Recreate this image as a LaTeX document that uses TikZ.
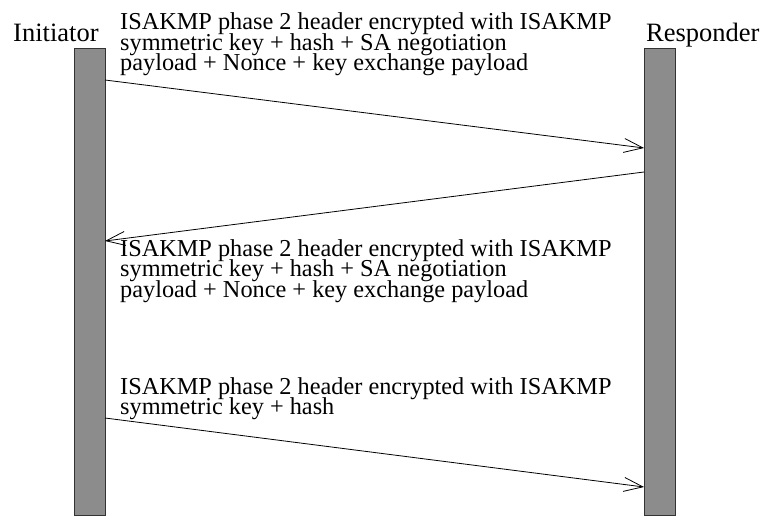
\documentclass[tikz,border=0pt]{standalone}
\usepackage{fontspec}
\setmainfont{Liberation Serif}
\usepackage{tikz}
\usetikzlibrary{arrows.meta}

\definecolor{bargray}{gray}{0.55}
\newcommand{\msgfont}{\fontsize{24.3}{20.5}\selectfont\lineskiplimit=-20pt\relax}

\begin{document}
\begin{tikzpicture}[x=1pt, y=-1pt,
    lifeline/.style={draw=black!80, fill=bargray, line width=0.9pt, minimum width=31pt, minimum height=467pt, inner sep=0pt},
    party/.style={anchor=base west, inner sep=0pt, font=\fontsize{26.5}{30}\selectfont},
    msgtext/.style={anchor=base west, inner sep=0pt, align=left, font=\msgfont},
    msg/.style={line width=0.8pt, -{Straight Barb[length=19pt, width=14pt, line width=0.8pt]}}]
        \useasboundingbox (0,0) rectangle (765,516);

        \node (Initiator) [lifeline] at (89.5,281.5) {};
        \node (Responder) [lifeline] at (659.5,281.5) {};
        \node (InitiatorName) [party] at (13,41.7) {Initiator};
        \node (ResponderName) [party] at (646,41.7) {Responder};

        % base of a multi-line node is its last line
        \node (Text1) [msgtext] at (120,71) {ISAKMP phase 2 header encrypted with ISAKMP\\symmetric key + hash + SA negotiation\\payload + Nonce + key exchange payload};
        \node (Text2) [msgtext] at (120,297) {ISAKMP phase 2 header encrypted with ISAKMP\\symmetric key + hash + SA negotiation\\payload + Nonce + key exchange payload};
        \node (Text3) [msgtext] at (120,414.5) {ISAKMP phase 2 header encrypted with ISAKMP\\symmetric key + hash};

        \coordinate (Out1) at (105,80);
        \coordinate (In1) at (644,148);
        \coordinate (Out2) at (644,172);
        \coordinate (In2) at (105,241);
        \coordinate (Out3) at (105,418);
        \coordinate (In3) at (644,487);

        \draw [msg] (Out1) -- (In1);
        \draw [msg] (Out2) -- (In2);
        \draw [msg] (Out3) -- (In3);
      \end{tikzpicture}
\end{document}
